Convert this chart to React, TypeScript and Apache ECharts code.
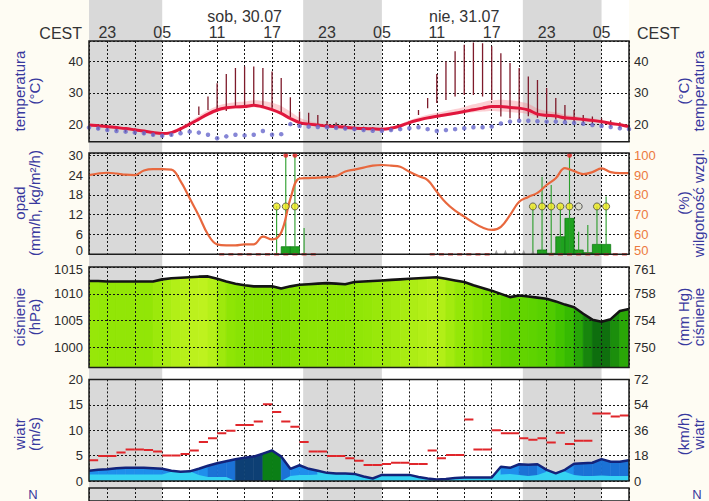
import React, { useEffect, useRef } from "react";
import * as echarts from "echarts";

// x coordinate = hours since 29.07 00:00 + 1  (so that the 3-hour grid 23,02,05.. falls on multiples of 3)
const X_MIN = 22; // 29.07 21:00
const X_MAX = 81; // 01.08 08:00
const X0 = 22; // x of first hourly value

// hourly values from 29.07 21:00 to 01.08 08:00 (60 values)
const temperature = [
  19.7, 19.5, 19.2, 18.9, 18.6, 18.2, 17.8, 17.3, 17.0, 17.3,
  18.5, 20.0, 21.6, 23.2, 24.5, 25.2, 25.5, 25.6, 26.0, 25.5,
  24.6, 23.4, 21.8, 20.5, 20.0, 19.7, 19.4, 19.2, 19.0, 18.7,
  18.6, 18.5, 18.4, 18.7, 19.4, 20.5, 21.3, 22.0, 22.5, 23.0,
  23.5, 24.0, 24.6, 25.1, 25.6, 25.6, 25.3, 25.1, 24.5, 23.2,
  22.8, 22.6, 22.0, 21.8, 21.5, 21.2, 20.8, 20.2, 19.8, 19.2,
];
const tempBandLow = [
  19.3, 19.1, 18.8, 18.5, 18.2, 17.8, 17.4, 16.9, 16.6, 16.9,
  18.1, 19.5, 21.0, 22.6, 23.9, 24.6, 24.9, 25.0, 25.4, 24.9,
  24.0, 22.8, 21.2, 20.0, 19.6, 19.3, 19.0, 18.8, 18.6, 18.3,
  18.2, 18.1, 18.0, 18.3, 19.0, 20.0, 20.8, 21.5, 22.0, 22.5,
  23.0, 23.4, 23.8, 24.0, 24.2, 24.0, 23.8, 23.6, 23.2, 22.4,
  22.2, 22.0, 21.5, 21.3, 21.0, 20.7, 20.3, 19.7, 19.3, 18.7,
];
const tempBandHigh = [
  20.1, 19.9, 19.6, 19.3, 19.0, 18.6, 18.2, 17.7, 17.4, 17.8,
  19.2, 20.8, 22.6, 24.4, 25.8, 26.6, 27.0, 27.2, 27.6, 27.4,
  26.8, 25.8, 24.0, 22.0, 21.0, 20.4, 20.0, 19.7, 19.5, 19.2,
  19.0, 18.9, 18.8, 19.2, 20.0, 21.2, 22.2, 23.0, 23.6, 24.2,
  24.8, 25.5, 26.3, 27.0, 27.6, 27.8, 27.6, 27.2, 26.5, 25.0,
  24.2, 23.8, 23.0, 22.6, 22.2, 21.8, 21.4, 20.8, 20.3, 19.7,
];
const sunTempLow = [
  18.5, 18.3, 18.0, 17.7, 17.4, 17.0, 16.6, 16.2, 15.9, 16.2,
  17.6, 19.5, 22.9, 24.5, 24.0, 24.2, 25.3, 25.8, 26.0, 25.6,
  24.5, 23.3, 22.2, 21.0, 19.9, 19.6, 18.8, 18.6, 18.3, 18.0,
  17.9, 17.8, 17.7, 17.9, 18.6, 19.8, 22.9, 25.1, 26.7, 27.7,
  28.8, 29.3, 29.3, 28.8, 27.7, 22.4, 21.9, 21.4, 22.5, 22.0,
  22.0, 21.5, 21.0, 20.6, 20.3, 20.0, 19.7, 19.2, 18.8, 18.3,
];
const sunTempHigh = [
  20.0, 19.8, 19.5, 19.2, 18.9, 18.5, 18.1, 17.6, 17.3, 17.6,
  19.0, 20.5, 25.6, 28.8, 33.0, 36.0, 37.9, 38.4, 38.4, 37.9,
  36.8, 34.7, 28.6, 24.0, 23.6, 22.9, 21.0, 20.5, 19.8, 19.4,
  19.2, 19.0, 18.9, 19.2, 19.9, 21.0, 24.5, 28.3, 36.0, 40.0,
  43.2, 45.3, 46.0, 45.8, 44.8, 42.6, 39.5, 37.9, 35.2, 34.1,
  31.5, 28.3, 26.1, 24.5, 22.9, 22.4, 21.9, 21.2, 20.6, 20.0,
];
const dewPoint = [
  18.9, 18.6, 18.1, 17.8, 17.6, 17.3, 17.1, 16.6, 16.3, 16.6,
  17.1, 17.6, 17.3, 16.6, 15.5, 16.1, 16.6, 16.4, 16.6, 17.8,
  16.6, 16.8, 20.0, 19.4, 19.2, 19.1, 19.0, 18.8, 18.6, 18.4,
  18.1, 17.9, 17.9, 18.1, 18.4, 18.7, 19.0, 18.4, 17.8, 18.1,
  18.4, 18.7, 19.0, 19.0, 19.2, 20.2, 20.8, 21.1, 21.1, 20.9,
  20.8, 20.8, 20.6, 20.4, 20.1, 19.7, 19.4, 19.1, 18.7, 18.4,
];
const humidity = [
  90.0, 90.8, 91.2, 90.8, 90.2, 90.0, 92.3, 93.0, 93.0, 92.8,
  87.0, 78.3, 69.5, 60.0, 55.0, 54.5, 54.5, 55.0, 55.0, 58.9,
  57.5, 61.0, 78.0, 88.3, 88.5, 88.7, 89.0, 89.5, 91.8, 92.8,
  93.8, 94.8, 95.1, 94.8, 94.2, 91.7, 89.5, 87.5, 81.6, 76.0,
  72.0, 69.0, 66.0, 63.5, 62.3, 63.9, 69.8, 76.5, 79.0, 81.0,
  85.0, 88.4, 93.5, 92.0, 90.5, 91.5, 93.4, 91.5, 91.0, 91.0,
];
// precipitation per hour (bar spans the hour)
const precipitation = [
  0, 0, 0, 0, 0, 0, 0, 0, 0, 0,
  0, 0, 0, 0, 0, 0, 0, 0, 0, 0,
  0, 2.3, 2.3, 0, 0, 0, 0, 0, 0, 0,
  0, 0, 0, 0, 0, 0, 0, 0, 0, 0,
  0, 0, 0, 0, 0, 0, 0, 0, 0, 1.3,
  0.3, 5.3, 10.9, 1.3, 0.5, 3.0, 3.0, 0, 0, 0,
];
// thin green lines (storm indicator) drawn at the middle of an hour
const stormLine = [
  0, 0, 0, 0, 0, 0, 0, 0, 0, 0,
  0, 0, 0, 0, 0, 0, 0, 0, 0, 0,
  14.6, 30, 30, 8, 0, 0, 0, 0, 0, 0,
  0, 0, 0, 0, 0, 0, 0, 0, 0, 0,
  0, 0, 0, 0, 0, 0, 0, 0, 14.5, 23.5,
  21, 14.5, 30, 6.8, 8.9, 14.5, 17.5, 0, 0, 0,
];
const stormCircleHours = [20, 21, 22, 48, 49, 50, 51, 52, 55, 56];
const stormCircleOpenHours = [53];
const stormCircleLevel = 14.5;
const stormTopHours = [21, 22, 52];
const stormTopLevel = 30;
const dryRedHours = [14, 15, 16, 17, 18, 19, 20, 21, 22, 23, 24, 37, 38, 39, 40, 41, 42, 43, 50, 51, 52, 53, 54, 55, 56, 57, 58];
const dryGrayHours = [44, 45, 46, 47, 48];

const pressure = [
  1012.4, 1012.4, 1012.3, 1012.3, 1012.3, 1012.3, 1012.3, 1012.3, 1012.7, 1012.9,
  1013.0, 1013.1, 1013.2, 1013.25, 1012.8, 1012.3, 1011.9, 1011.6, 1011.4, 1011.4,
  1011.4, 1011.0, 1011.4, 1011.7, 1011.8, 1011.9, 1012.0, 1011.9, 1011.8, 1012.2,
  1012.3, 1012.4, 1012.5, 1012.6, 1012.7, 1012.8, 1012.9, 1013.0, 1013.1, 1012.8,
  1012.5, 1012.2, 1011.6, 1011.1, 1010.6, 1010.0, 1009.4, 1009.7, 1009.5, 1009.3,
  1009.1, 1008.6, 1008.0, 1007.5, 1006.3, 1005.2, 1004.8, 1005.3, 1006.8, 1007.2,
];
const windSpeed = [
  2.0, 2.2, 2.3, 2.5, 2.6, 2.6, 2.6, 2.5, 2.4, 2.0,
  1.8, 1.9, 2.4, 3.0, 3.5, 3.9, 4.3, 4.6, 4.8, 5.4,
  6.0, 4.8, 2.4, 3.1, 2.4, 2.0, 1.6, 1.5, 1.5, 1.4,
  0.9, 0.5, 1.2, 1.2, 1.2, 1.2, 0.8, 0.5, 0.3, 0.4,
  0.6, 0.7, 0.7, 0.7, 0.7, 2.8, 2.6, 3.3, 3.2, 3.3,
  2.2, 1.5, 2.2, 3.4, 3.5, 3.6, 4.3, 3.8, 3.8, 4.1,
];
const windLow = [
  1.3, 1.3, 1.3, 1.3, 1.3, 1.3, 1.3, 1.3, 1.3, 1.8,
  1.8, 1.9, 1.2, 0.8, 0.8, 0.8, 0, 0, 0, 0,
  0, 0, 1.0, 1.2, 1.2, 1.3, 1.3, 1.3, 1.3, 1.3,
  0.9, 0.5, 1.2, 1.2, 1.2, 1.2, 0.8, 0.5, 0.3, 0.4,
  0.6, 0.6, 0.6, 0.6, 0.6, 1.3, 1.4, 1.2, 1.0, 1.2,
  1.8, 1.5, 1.8, 1.2, 1.0, 1.0, 1.1, 1.0, 1.0, 1.0,
];
// gust for each hour segment (59 segments)
const windGust = [
  4.1, 4.9, 4.9, 5.6, 6.2, 6.2, 6.1, 5.8, 5.0, 5.0,
  5.3, 6.0, 7.7, 8.4, 9.4, 9.9, 11.0, 11.0, 11.7, 15.1,
  13.6, 11.7, 10.7, 7.7, 5.8, 5.8, 4.9, 4.9, 4.5, 4.0,
  3.15, 3.15, 3.35, 3.6, 3.6, 3.35, 3.35, 6.0, 4.5, 5.1,
  5.1, 12.1, 6.2, 6.2, 10.0, 9.4, 9.4, 8.4, 8.1, 8.4,
  7.6, 9.5, 7.3, 7.9, 7.9, 13.3, 13.3, 12.7, 12.9,
];
// night periods (x coordinates: sunset .. sunrise)
const nights = [
  [22, 30],
  [45.4, 54],
  [69.4, 78],
];
const dayLabels = [
  { text: "sob, 30.07", x: 39 },
  { text: "nie, 31.07", x: 63 },
];

const FONT = '"Liberation Sans", Arial, Helvetica, sans-serif';
const TITLE_COLOR = "#38389e";
const LABEL_COLOR = "#2b2b2b";
const HUM_COLOR = "#ec7a3e";
const GRID_LEFT = 89;
const GRID_W = 540;

function lerpColor(stops: [number, number[]][], v: number) {
  if (v <= stops[0][0]) return `rgb(${stops[0][1].join(",")})`;
  for (let k = 1; k < stops.length; k++) {
    if (v <= stops[k][0]) {
      const [a, ca] = stops[k - 1];
      const [b, cb] = stops[k];
      const t = (v - a) / (b - a);
      const c = ca.map((x, j) => Math.round(x + (cb[j] - x) * t));
      return `rgb(${c.join(",")})`;
    }
  }
  return `rgb(${stops[stops.length - 1][1].join(",")})`;
}
const pressureStops: [number, number[]][] = [
  [1004.8, [12, 104, 14]],
  [1006.3, [30, 150, 12]],
  [1008.0, [58, 192, 0]],
  [1009.3, [92, 210, 0]],
  [1010.8, [122, 222, 0]],
  [1012.3, [146, 230, 6]],
  [1013.2, [190, 242, 30]],
];
const windColor = (v: number) =>
  v < 2 ? "#35d3f3" : v < 3 ? "#1f8fec" : v < 4.4 ? "#1b72d6" : v < 5.2 ? "#0d3f74" : "#0b7f16";

const pts = (arr: number[], off = 0) => arr.map((v, i) => [X0 + i + off, v]);

function buildOption() {
  const grids = [
    { left: GRID_LEFT, width: GRID_W, top: 0, height: 501, show: true, backgroundColor: "#ffffff", borderWidth: 0, z: -5 },
    { left: GRID_LEFT, width: GRID_W, top: 41, height: 100.7 },
    { left: GRID_LEFT, width: GRID_W, top: 153, height: 101.3 },
    { left: GRID_LEFT, width: GRID_W, top: 267, height: 100.5 },
    { left: GRID_LEFT, width: GRID_W, top: 379.4, height: 101.6 },
    { left: GRID_LEFT, width: GRID_W, top: 488, height: 40 },
  ].map((g, i) =>
    i === 0
      ? g
      : { ...g, show: true, backgroundColor: "transparent", borderColor: "#1c1c1c", borderWidth: 1.5, z: 6 }
  );

  const dotted = { color: "#151515", width: 1, type: [2, 2] };
  const xAxes: any[] = [0, 1, 2, 3, 4, 5].map((g) => ({
    type: "value",
    gridIndex: g,
    min: X_MIN,
    max: X_MAX,
    minInterval: 3,
    maxInterval: 3,
    axisLine: { show: false },
    axisTick: { show: false },
    axisLabel: { show: false },
    splitLine: { show: g !== 0, lineStyle: dotted },
    z: g === 3 ? 3 : 0,
  }));
  xAxes[1] = {
    ...xAxes[1],
    position: "top",
    axisLabel: {
      show: true,
      margin: 1,
      fontSize: 16,
      fontFamily: FONT,
      color: "#333",
      showMinLabel: false,
      showMaxLabel: false,
      formatter: (v: number) => {
        const r = Math.round(v);
        return r % 6 === 0 ? String((r - 1) % 24).padStart(2, "0") : "";
      },
    },
  };

  // rich styles used to nudge the crowded edge labels apart (0 / 1015, 50 / 761)
  const rich = (color: string) => ({
    up: { fontSize: 13, fontFamily: FONT, color, padding: [0, 0, 7, 0] },
    down: { fontSize: 13, fontFamily: FONT, color, padding: [5, 0, 0, 0] },
  });
  const plain = (v: number) => String(Math.round(v * 100) / 100);
  const lab = (extra: any) => ({ show: true, fontSize: 13, fontFamily: FONT, color: LABEL_COLOR, formatter: plain, rich: rich(LABEL_COLOR), ...extra });
  const yBase = (gridIndex: number, position: string, min: number, max: number, step: number, label: any, split: boolean, z = 0) => ({
    type: "value",
    gridIndex,
    position,
    min,
    max,
    minInterval: step,
    maxInterval: step,
    axisLine: { show: false },
    axisTick: { show: false },
    axisLabel: lab({ margin: position === "left" ? 6 : 5, ...label }),
    splitLine: { show: split, lineStyle: dotted },
    z,
  });
  const mmHg = (v: number) => Math.round(v * 0.750062);
  const yAxes: any[] = [
    { type: "value", gridIndex: 0, min: 0, max: 1, show: false, splitLine: { show: false } },
    yBase(1, "left", 14.4, 46.5, 10, { showMinLabel: false, showMaxLabel: false }, true),
    yBase(1, "right", 14.4, 46.5, 10, { showMinLabel: false, showMaxLabel: false }, false),
    yBase(2, "left", 0, 30.7, 6, { showMaxLabel: false, formatter: (v: number) => (v === 0 ? "{up|0}" : plain(v)) }, true),
    yBase(2, "right", 50, 101.17, 10, {
      showMaxLabel: false, color: HUM_COLOR, rich: rich(HUM_COLOR),
      formatter: (v: number) => (v === 50 ? "{up|50}" : plain(v)),
    }, false),
    yBase(3, "left", 996.3, 1015, 5, { showMinLabel: false, formatter: (v: number) => (v === 1015 ? "{down|1015}" : plain(v)) }, true, 3),
    yBase(3, "right", 996.3, 1015, 5, {
      showMinLabel: false,
      formatter: (v: number) => (v === 1015 ? `{down|${mmHg(v)}}` : String(mmHg(v))),
    }, false),
    yBase(4, "left", 0, 20, 5, {}, true),
    yBase(4, "right", 0, 72, 18, {}, false),
    { type: "value", gridIndex: 5, min: 0, max: 1, show: false, splitLine: { show: false } },
  ];

  const series: any[] = [];

  // night shading (background)
  series.push({
    type: "custom",
    xAxisIndex: 0,
    yAxisIndex: 0,
    z: -4,
    silent: true,
    data: nights,
    renderItem: (_p: any, api: any) => {
      const a = api.coord([api.value(0), 1]);
      const b = api.coord([api.value(1), 0]);
      return { type: "rect", shape: { x: a[0], y: a[1], width: b[0] - a[0], height: b[1] - a[1] }, style: { fill: "#d9d9d9" } };
    },
  });

  // ---------- temperature ----------
  series.push({
    type: "custom", xAxisIndex: 1, yAxisIndex: 1, silent: true, clip: true,
    data: [[X0, tempBandLow[0]]],
    renderItem: (_p: any, api: any) => {
      const upper = tempBandHigh.map((v, i) => api.coord([X0 + i, v]));
      const lower = tempBandLow.map((v, i) => api.coord([X0 + i, v])).reverse();
      return {
        type: "polygon",
        shape: { points: upper.concat(lower), smooth: 0.25 },
        style: { fill: "rgba(246,128,140,0.38)" },
      };
    },
  });
  series.push({
    type: "custom", xAxisIndex: 1, yAxisIndex: 1, silent: true, clip: true,
    data: sunTempLow.map((lo, i) => [X0 + i, lo, sunTempHigh[i]]),
    renderItem: (_p: any, api: any) => {
      const a = api.coord([api.value(0), api.value(1)]);
      const b = api.coord([api.value(0), api.value(2)]);
      return { type: "line", shape: { x1: a[0], y1: a[1], x2: b[0], y2: b[1] }, style: { stroke: "#7e1b2b", lineWidth: 1.3 } };
    },
  });
  series.push({
    type: "line", xAxisIndex: 1, yAxisIndex: 1, symbol: "none", smooth: 0.3, silent: true, z: 3,
    lineStyle: { color: "#e1173d", width: 3 }, data: pts(temperature),
  });
  series.push({
    type: "scatter", xAxisIndex: 1, yAxisIndex: 1, symbolSize: 4.5, silent: true, z: 4,
    itemStyle: { color: "#6868cc" }, data: pts(dewPoint),
  });

  // ---------- precipitation & humidity ----------
  series.push({
    type: "custom", xAxisIndex: 2, yAxisIndex: 3, silent: true, clip: true,
    data: precipitation.map((v, i) => [X0 + i, v]).filter((d) => d[1] > 0),
    renderItem: (_p: any, api: any) => {
      const a = api.coord([api.value(0), api.value(1)]);
      const b = api.coord([api.value(0) + 1, 0]);
      return {
        type: "rect",
        shape: { x: a[0], y: a[1], width: b[0] - a[0], height: b[1] - a[1] },
        style: { fill: "#1fa21f", stroke: "#127a14", lineWidth: 0.8 },
      };
    },
  });
  series.push({
    type: "custom", xAxisIndex: 2, yAxisIndex: 3, silent: true, clip: true,
    data: stormLine.map((v, i) => [X0 + i + 0.5, v]).filter((d) => d[1] > 0),
    renderItem: (_p: any, api: any) => {
      const a = api.coord([api.value(0), 0]);
      const b = api.coord([api.value(0), api.value(1)]);
      return { type: "line", shape: { x1: a[0], y1: a[1], x2: b[0], y2: b[1] }, style: { stroke: "#2a9d2a", lineWidth: 1.1 } };
    },
  });
  series.push({
    type: "scatter", xAxisIndex: 2, yAxisIndex: 3, symbol: "rect", symbolSize: [5, 2.5], silent: true,
    itemStyle: { color: "#d8302a" }, data: dryRedHours.map((h) => [X0 + h + 0.5, 0]),
  });
  series.push({
    type: "scatter", xAxisIndex: 2, yAxisIndex: 3, symbol: "triangle", symbolSize: [4, 5], silent: true,
    itemStyle: { color: "#8a8a8a" }, data: dryGrayHours.map((h) => [X0 + h + 0.5, 0.6]),
  });
  series.push({
    type: "line", xAxisIndex: 2, yAxisIndex: 4, symbol: "none", smooth: 0.4, silent: true, z: 3,
    lineStyle: { color: "#e8683e", width: 2.2 }, data: pts(humidity),
  });
  series.push({
    type: "scatter", xAxisIndex: 2, yAxisIndex: 3, symbolSize: 7, silent: true, z: 4,
    itemStyle: { color: "#eeea1c", borderColor: "#4a4a3a", borderWidth: 1 },
    data: stormCircleHours.map((h) => [X0 + h + 0.5, stormCircleLevel]),
  });
  series.push({
    type: "scatter", xAxisIndex: 2, yAxisIndex: 3, symbolSize: 7, silent: true, z: 4,
    itemStyle: { color: "#d8d8c8", borderColor: "#3a3a3a", borderWidth: 1 },
    data: stormCircleOpenHours.map((h) => [X0 + h + 0.5, stormCircleLevel]),
  });
  series.push({
    type: "scatter", xAxisIndex: 2, yAxisIndex: 3, symbolSize: 5, silent: true, z: 4,
    itemStyle: { color: "#e42222" }, data: stormTopHours.map((h) => [X0 + h + 0.5, stormTopLevel]),
  });

  // ---------- pressure ----------
  series.push({
    type: "custom", xAxisIndex: 3, yAxisIndex: 5, silent: true, clip: true,
    data: pressure.slice(0, -1).map((p, i) => [X0 + i, p, pressure[i + 1]]),
    renderItem: (_p: any, api: any) => {
      const x = api.value(0);
      const pa = api.value(1);
      const pb = api.value(2);
      const c = lerpColor(pressureStops, (pa + pb) / 2);
      const points = [api.coord([x, pa]), api.coord([x + 1, pb]), api.coord([x + 1, 990]), api.coord([x, 990])];
      return { type: "polygon", shape: { points }, style: { fill: c, stroke: c, lineWidth: 0.8 } };
    },
  });
  series.push({
    type: "line", xAxisIndex: 3, yAxisIndex: 5, symbol: "none", silent: true, z: 4,
    lineStyle: { color: "#141414", width: 2.6 }, data: pts(pressure),
  });

  // ---------- wind ----------
  series.push({
    type: "custom", xAxisIndex: 4, yAxisIndex: 7, silent: true, clip: true,
    data: windSpeed.slice(0, -1).map((v, i) => [X0 + i, v, windSpeed[i + 1]]),
    renderItem: (_p: any, api: any) => {
      const x = api.value(0);
      const va = api.value(1);
      const vb = api.value(2);
      const c = windColor((va + vb) / 2);
      const points = [api.coord([x, va]), api.coord([x + 1, vb]), api.coord([x + 1, 0]), api.coord([x, 0])];
      return { type: "polygon", shape: { points }, style: { fill: c, stroke: c, lineWidth: 0.6 } };
    },
  });
  series.push({
    type: "line", xAxisIndex: 4, yAxisIndex: 7, symbol: "none", silent: true,
    lineStyle: { width: 0, opacity: 0 }, areaStyle: { color: "#35d3f3", opacity: 1 }, data: pts(windLow),
  });
  series.push({
    type: "line", xAxisIndex: 4, yAxisIndex: 7, symbol: "none", silent: true, z: 3,
    lineStyle: { color: "#13237a", width: 2.5 }, data: pts(windSpeed),
  });
  series.push({
    type: "custom", xAxisIndex: 4, yAxisIndex: 7, silent: true, clip: true, z: 4,
    data: windGust.map((g, i) => [X0 + i, g]),
    renderItem: (_p: any, api: any) => {
      const a = api.coord([api.value(0), api.value(1)]);
      const b = api.coord([api.value(0) + 1, api.value(1)]);
      return { type: "line", shape: { x1: a[0], y1: a[1], x2: b[0], y2: b[1] }, style: { stroke: "#e0262b", lineWidth: 2 } };
    },
  });

  // direction panel (frame only, content below the visible area)
  series.push({ type: "line", xAxisIndex: 5, yAxisIndex: 9, data: [], silent: true });

  return {
    animation: false,
    backgroundColor: "#fefcf3",
    textStyle: { fontFamily: FONT },
    grid: grids,
    xAxis: xAxes,
    yAxis: yAxes,
    series,
  };
}

const titles = [
  { x: 27, y: 91, text: "temperatura\n(°C)" },
  { x: 691, y: 91, text: "(°C)\ntemperatura" },
  { x: 27, y: 203, text: "opad\n(mm/h, kg/m²/h)" },
  { x: 691, y: 203, text: "(%)\nwilgotność wzgl." },
  { x: 27, y: 317, text: "ciśnienie\n(hPa)" },
  { x: 691, y: 317, text: "(mm Hg)\nciśnienie" },
  { x: 27, y: 434, text: "wiatr\n(m/s)" },
  { x: 691, y: 434, text: "(km/h)\nwiatr" },
];

export default function App() {
  const ref = useRef<HTMLDivElement>(null);
  useEffect(() => {
    document.body.style.margin = "0";
    const chart = echarts.init(ref.current as HTMLDivElement, null, { renderer: "svg" });
    chart.setOption(buildOption());

    const txt = (x: number, y: number, text: string, opts: any = {}) => ({
      type: "text",
      x,
      y,
      silent: true,
      z: 10,
      rotation: opts.rotation || 0,
      style: {
        text,
        fill: opts.fill || "#333",
        fontSize: opts.fontSize || 16,
        fontFamily: FONT,
        lineHeight: opts.lineHeight,
        align: opts.align || "center",
        textAlign: opts.align || "center",
        verticalAlign: opts.valign || "middle",
        textVerticalAlign: opts.valign || "middle",
      },
    });
    const graphic: any[] = [];
    dayLabels.forEach((d) => {
      const px = chart.convertToPixel({ xAxisIndex: 1 }, d.x) as number;
      graphic.push(txt(px, 24, d.text, { valign: "bottom" }));
    });
    graphic.push(txt(82, 41, "CEST", { align: "right", valign: "bottom" }));
    graphic.push(txt(637, 41, "CEST", { align: "left", valign: "bottom" }));
    titles.forEach((t) =>
      graphic.push(txt(t.x, t.y, t.text, { rotation: Math.PI / 2, fill: TITLE_COLOR, fontSize: 15, lineHeight: 15 }))
    );
    graphic.push(txt(33, 501, "N", { fill: TITLE_COLOR, fontSize: 13, valign: "bottom" }));
    graphic.push(txt(697, 501, "N", { fill: TITLE_COLOR, fontSize: 13, valign: "bottom" }));
    chart.setOption({ graphic });

    return () => chart.dispose();
  }, []);
  return <div ref={ref} style={{ width: 709, height: 501 }} />;
}
